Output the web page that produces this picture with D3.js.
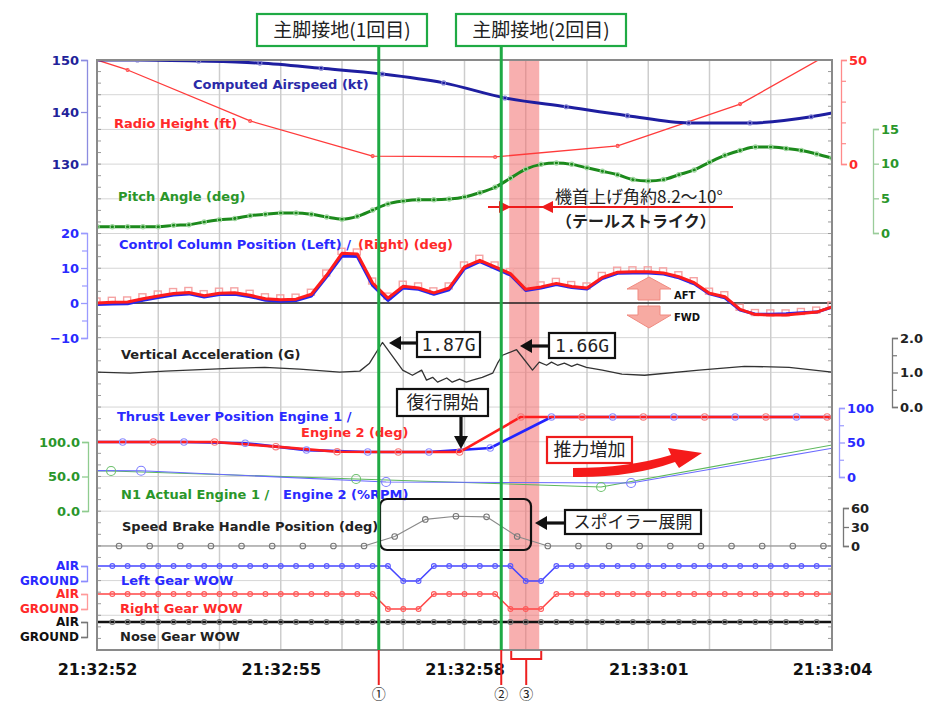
<!DOCTYPE html>
<html>
<head>
<meta charset="utf-8">
<script src="https://cdn.jsdelivr.net/npm/d3@7"></script>
<style>
  body { margin: 0; background: #fff; }
</style>
</head>
<body>
<div id="chart"></div>
<script>
// time is seconds after 21:32:52
const tickSecs = [0, 3, 6, 9, 12];
const tickLabels = ["21:32:52", "21:32:55", "21:32:58", "21:33:01", "21:33:04"];
const quarterT = d3.range(0, 12.001, 0.25); // 0.25 s sample base

// Computed Airspeed (kt)
const airT = [0, 0.66, 1.66, 2.66, 3.66, 4.66, 5.66, 6.66, 7.66, 8.66, 9.66, 10.66, 11.66, 12];
const airspeed = [150.0, 150.0, 149.8, 149.4, 148.4, 147.3, 145.6, 142.7, 141.0, 139.3, 137.9, 137.9, 139.1, 139.8];

// Radio Height (ft)
const radioT = [0, 0.5, 2.5, 4.5, 6.5, 8.5, 10.5, 12.5];
const radioHeight = [50, 45.2, 20.7, 3.8, 3.4, 8.7, 28.8, 62];

// Pitch Angle (deg), every 0.25 s
const pitch = [0.9, 0.9, 0.9, 0.9, 0.9, 1.1, 1.2, 1.6, 1.9, 2.1, 2.5, 2.7, 2.9, 2.9, 2.7, 2.3, 2.0, 2.4, 3.3, 4.2,
  4.6, 4.8, 4.8, 4.9, 5.2, 5.8, 6.6, 7.9, 9.2, 9.9, 10.1, 9.9, 9.4, 8.9, 8.4, 7.7, 7.5, 7.7, 8.4, 9.1,
  10.2, 11.2, 11.9, 12.4, 12.4, 12.2, 11.9, 11.4, 10.8];

// Control Column Position (deg), every 0.25 s
const ccLeft = [-0.4, -0.3, -0.2, 0.8, 1.6, 2.3, 2.6, 1.7, 2.4, 2.5, 1.8, 0.8, 0.5, 0.7, 2.0, 7.5, 13.4, 13.3, 5.0, 0.7,
  4.3, 3.9, 2.5, 3.8, 9.8, 11.8, 9.9, 8.0, 3.6, 4.3, 5.3, 4.4, 4.0, 7.0, 8.5, 8.6, 8.6, 8.3, 7.2, 5.5,
  2.6, 1.5, -2.0, -3.2, -3.2, -3.1, -2.8, -2.6, -1.2];
const ccRight = [0, 0.2, 0.3, 1.2, 2.0, 2.7, 3.0, 2.1, 2.8, 2.9, 2.2, 1.2, 0.9, 1.1, 2.5, 8.0, 14.2, 14.0, 5.7, 1.4,
  4.8, 4.3, 2.9, 4.3, 10.3, 12.2, 10.3, 8.4, 3.9, 4.6, 5.6, 4.7, 4.3, 7.3, 8.8, 8.9, 8.9, 8.6, 7.5, 5.8,
  2.8, 1.8, -1.8, -3.3, -3.4, -3.4, -3.0, -2.6, -1.1];

// Vertical Acceleration (G)
const accT = [0, 0.54, 1.11, 2.17, 2.74, 3.31, 3.96, 4.29, 4.45, 4.66, 4.99, 5.15, 5.30, 5.38, 5.48, 5.56, 5.71, 5.80,
  5.92, 6.03, 6.13, 6.29, 6.46, 6.54, 6.62, 6.85, 7.11, 7.22, 7.34, 7.42, 7.52, 7.63, 7.75, 7.84, 7.99, 8.25,
  8.57, 8.94, 9.83, 10.57, 11.30, 12.0];
const accel = [1.01, 0.98, 1.04, 1.12, 1.15, 1.10, 1.01, 1.04, 1.27, 1.87, 1.07, 0.92, 1.07, 0.78, 0.86, 0.72, 0.84, 0.72,
  0.81, 0.72, 0.78, 0.86, 0.98, 1.27, 1.50, 1.66, 1.07, 1.30, 1.21, 1.30, 1.21, 1.27, 1.18, 1.24, 1.15, 1.07,
  0.95, 0.92, 1.07, 1.18, 1.15, 1.01];

// Thrust Lever Position (deg)
const thrLeftT = [0, 0.42, 1.42, 2.42, 3.42, 4.42, 5.42, 6.42, 7.42, 8.42, 9.42, 10.42, 11.42, 12];
const thrLeft = [50.7, 50.7, 50.7, 49, 39, 36.2, 36.2, 42, 87, 87, 87, 87, 87, 87];
const thrRightT = [0, 0.92, 1.92, 2.92, 3.92, 4.92, 5.92, 6.92, 7.92, 8.92, 9.92, 10.92, 11.92, 12];
const thrRight = [50.7, 50.7, 50.7, 44, 36.5, 36.2, 36.2, 87, 87, 87, 87, 87, 87, 87];

// N1 Actual (%RPM)
const n1LeftT = [0, 0.23, 4.23, 8.23, 12.23];
const n1Left = [58, 58, 46.4, 34.8, 99.3];
const n1RightT = [0, 0.72, 4.72, 8.72, 12.72];
const n1Right = [58.5, 58.4, 42, 40.6, 102];

// Speed Brake Handle Position (deg)
const sbT = [0].concat(d3.range(0.36, 12, 0.5), [12]);
const speedBrake = [0, 0, 0, 0, 0, 0, 0, 0, 0, 0, 15, 42, 47, 46, 15, 0, 0, 0, 0, 0, 0, 0, 0, 0, 0, 0];

// Weight on wheels, 1 = AIR, 0 = GROUND, every 0.25 s
const leftGear = [1,1,1,1,1,1,1,1,1,1,1,1,1,1,1,1,1,1,1,1,0,0,1,1,1,1,1,1,0,0,1,1,1,1,1,1,1,1,1,1,1,1,1,1,1,1,1,1,1];
const rightGear = [1,1,1,1,1,1,1,1,1,1,1,1,1,1,1,1,1,1,1,0,0,0,1,1,1,1,1,0,0,0,1,1,1,1,1,1,1,1,1,1,1,1,1,1,1,1,1,1,1];
const noseGear = [1,1,1,1,1,1,1,1,1,1,1,1,1,1,1,1,1,1,1,1,1,1,1,1,1,1,1,1,1,1,1,1,1,1,1,1,1,1,1,1,1,1,1,1,1,1,1,1,1];

// events
const touchdowns = [4.6, 6.6];
const tailStrike = [6.73, 7.22];

const SANS = "'DejaVu Sans', Verdana, sans-serif";
const JP = "'Noto Sans CJK JP', sans-serif";
const MONO = "'DejaVu Sans Mono', 'Liberation Mono', monospace";

const width = 931, height = 704;
const plotTop = 60, plotBottom = 650;

const svg = d3.select("#chart").append("svg")
  .attr("width", width).attr("height", height)
  .style("background", "#fff");

const x = d3.scaleLinear().domain([0, 12]).range([97, 832]);

const yAir = d3.scaleLinear().domain([130, 150]).range([164, 60]);
const yRadio = d3.scaleLinear().domain([0, 50]).range([164, 60]);
const yPitch = d3.scaleLinear().domain([0, 15]).range([233, 129]);
const yCol = d3.scaleLinear().domain([-10, 20]).range([338, 233]);
const yAcc = d3.scaleLinear().domain([0, 2]).range([407, 338]);
const yThr = d3.scaleLinear().domain([0, 100]).range([477, 408]);
const yN1 = d3.scaleLinear().domain([0, 100]).range([511, 442]);
const ySb = d3.scaleLinear().domain([0, 60]).range([546, 508]);
const yLeftG = d3.scaleLinear().domain([0, 1]).range([581, 566]);
const yRightG = d3.scaleLinear().domain([0, 1]).range([609, 594]);
const yNoseG = d3.scaleLinear().domain([0, 1]).range([637, 622]);

svg.append("clipPath").attr("id", "plotclip")
  .append("rect").attr("x", 97).attr("y", plotTop).attr("width", 735).attr("height", plotBottom - plotTop);

// grid
const grid = svg.append("g");
const rowStep = (plotBottom - plotTop) / 17;
grid.selectAll(".hg").data(d3.range(1, 17)).enter().append("line")
  .attr("x1", 97).attr("x2", 832)
  .attr("y1", d => plotTop + d * rowStep).attr("y2", d => plotTop + d * rowStep)
  .attr("stroke", "#d6d6d6").attr("stroke-width", 1);
grid.selectAll(".vg").data(d3.range(1, 12)).enter().append("line")
  .attr("x1", d => x(d)).attr("x2", d => x(d))
  .attr("y1", plotTop).attr("y2", plotBottom)
  .attr("stroke", "#cdcdcd").attr("stroke-width", 1.5);
// small ticks inside the frame
const minorY = d3.range(plotTop, plotBottom, rowStep / 3);
grid.selectAll(".ml").data(minorY).enter().append("line")
  .attr("x1", 97).attr("x2", 101).attr("y1", d => d).attr("y2", d => d)
  .attr("stroke", "#999");
grid.selectAll(".mr").data(minorY).enter().append("line")
  .attr("x1", 828).attr("x2", 832).attr("y1", d => d).attr("y2", d => d)
  .attr("stroke", "#999");

// tail strike band
svg.append("rect")
  .attr("x", x(tailStrike[0])).attr("y", plotTop)
  .attr("width", x(tailStrike[1]) - x(tailStrike[0])).attr("height", plotBottom - plotTop)
  .attr("fill", "#f26e6e").attr("opacity", 0.55);

const plot = svg.append("g").attr("clip-path", "url(#plotclip)");

// zero line for control column
plot.append("line").attr("x1", 97).attr("x2", 832)
  .attr("y1", yCol(0)).attr("y2", yCol(0))
  .attr("stroke", "#222").attr("stroke-width", 1.3);

function drawLine(ts, vs, yScale, color, w, curve, dash) {
  plot.append("path")
    .datum(ts.map((t, i) => [t, vs[i]]))
    .attr("fill", "none").attr("stroke", color).attr("stroke-width", w)
    .attr("stroke-linejoin", "round")
    .attr("stroke-dasharray", dash || null)
    .attr("d", d3.line().x(d => x(d[0])).y(d => yScale(d[1])).curve(curve || d3.curveLinear));
}

function drawDots(ts, vs, yScale, color, r, keep) {
  const pts = ts.map((t, i) => [t, vs[i]]).filter((d, i) => keep ? keep(i) : true);
  plot.append("g").selectAll("circle").data(pts).enter().append("circle")
    .attr("cx", d => x(d[0])).attr("cy", d => yScale(d[1])).attr("r", r)
    .attr("fill", "none").attr("stroke", color).attr("stroke-width", 1.1);
}

// airspeed + radio height + pitch
drawLine(radioT, radioHeight, yRadio, "#ff3b3b", 1.3);
drawDots(radioT, radioHeight, yRadio, "#ff5050", 1.5, i => i > 0);
drawLine(airT, airspeed, yAir, "#1e1ea0", 3, d3.curveMonotoneX);
drawDots(airT, airspeed, yAir, "#8080d0", 2, i => i > 0 && i < airT.length - 1);
drawLine(quarterT, pitch, yPitch, "#1c8a1c", 3, d3.curveMonotoneX);
drawDots(quarterT, pitch, yPitch, "#9fd69f", 2.2);

// control column
plot.append("g").selectAll("rect").data(quarterT.map((t, i) => [t, ccRight[i]])).enter().append("rect")
  .attr("x", d => x(d[0]) - 4).attr("y", d => yCol(d[1]) - 5)
  .attr("width", 7).attr("height", 6)
  .attr("fill", "none").attr("stroke", "#f5a3a3").attr("stroke-width", 1.4);
drawLine(quarterT, ccLeft, yCol, "#2626ee", 3);
drawLine(quarterT, ccRight, yCol, "#ff1c1c", 3);

// vertical acceleration
drawLine(accT, accel, yAcc, "#333", 1.3);

// thrust lever
drawLine(thrLeftT, thrLeft, yThr, "#2424ff", 2.6);
drawLine(thrRightT, thrRight, yThr, "#ff1e1e", 2.6);
drawDots(thrLeftT, thrLeft, yThr, "#8c8cff", 3.2, i => i > 0 && i < thrLeftT.length - 1);
drawDots(thrRightT, thrRight, yThr, "#f47c7c", 3.2, i => i > 0 && i < thrRightT.length - 1);

// N1
drawLine(n1LeftT, n1Left, yN1, "#5cb85c", 1.1);
drawLine(n1RightT, n1Right, yN1, "#6a6aff", 1.1);
drawDots(n1LeftT, n1Left, yN1, "#6cc06c", 4.5, i => i > 0);
drawDots(n1RightT, n1Right, yN1, "#7c7cff", 4.5, i => i > 0);

// speed brake
drawLine(sbT, speedBrake, ySb, "#8a8a8a", 1.2);
drawDots(sbT, speedBrake, ySb, "#777", 2.8, i => i > 0 && i < sbT.length - 1);

// weight on wheels
drawLine(quarterT, leftGear, yLeftG, "#4646ff", 1.6);
drawDots(quarterT, leftGear, yLeftG, "#5a5aff", 2.4, i => i > 0 && i < 48);
drawLine(quarterT, rightGear, yRightG, "#ff4646", 1.6);
drawDots(quarterT, rightGear, yRightG, "#ff5a5a", 2.4, i => i > 0 && i < 48);
drawLine(quarterT, noseGear, yNoseG, "#111", 2.6);
drawDots(quarterT, noseGear, yNoseG, "#777", 2.4, i => i > 0 && i < 48);

// frame
svg.append("rect").attr("x", 97).attr("y", plotTop).attr("width", 735).attr("height", plotBottom - plotTop)
  .attr("fill", "none").attr("stroke", "#8a8a8a").attr("stroke-width", 2);

// side axes
function sideAxis(side, xPos, scale, ticks, fmt, textColor, lineColor, minor, fontSize) {
  const ax = (side === "left" ? d3.axisLeft(scale) : d3.axisRight(scale))
    .tickValues(ticks).tickFormat(fmt).tickSize(6).tickPadding(2);
  const g = svg.append("g").attr("transform", `translate(${xPos},0)`).call(ax);
  g.select(".domain").attr("stroke", lineColor).attr("stroke-width", 1.3);
  g.selectAll(".tick line").attr("stroke", lineColor).attr("stroke-width", 1.3);
  g.selectAll("text").attr("fill", textColor)
    .style("font-family", SANS).style("font-size", (fontSize || 13) + "px").style("font-weight", "bold");
  if (minor) {
    const m = (side === "left" ? d3.axisLeft(scale) : d3.axisRight(scale))
      .tickValues(minor).tickFormat("").tickSize(5);
    const mg = svg.append("g").attr("transform", `translate(${xPos},0)`).call(m);
    mg.select(".domain").remove();
    mg.selectAll(".tick line").attr("stroke", lineColor).attr("stroke-width", 1.2);
  }
}

sideAxis("left", 87, yAir, [150, 140, 130], d3.format("d"), "#22229a", "#8c8ce0");
sideAxis("left", 87, yCol, [20, 10, 0, -10], d3.format("d"), "#2a2aff", "#9a9aff", [15, 5, -5]);
sideAxis("left", 88, yN1, [100, 50, 0], d3.format(".1f"), "#2a962a", "#8fcc8f");
sideAxis("left", 87, yLeftG, [1, 0], d => d ? "AIR" : "GROUND", "#2a2aff", "#8c8cff", null, 12);
sideAxis("left", 87, yRightG, [1, 0], d => d ? "AIR" : "GROUND", "#ff2a2a", "#ff9a9a", null, 12);
sideAxis("left", 87, yNoseG, [1, 0], d => d ? "AIR" : "GROUND", "#111", "#777", null, 12);

sideAxis("right", 841, yRadio, [50, 0], d3.format("d"), "#ff2a2a", "#ff8a8a", [10, 20, 30, 40]);
sideAxis("right", 873, yPitch, [15, 10, 5, 0], d3.format("d"), "#2a962a", "#9acc9a");
sideAxis("right", 892, yAcc, [2, 1, 0], d3.format(".1f"), "#222", "#777", [1.5, 0.5]);
sideAxis("right", 839, yThr, [100, 50, 0], d3.format("d"), "#2a2aff", "#9a9aff", [75, 25]);
sideAxis("right", 843, ySb, [60, 30, 0], d3.format("d"), "#222", "#777");

// time axis
const tAx = d3.axisBottom(x).tickValues(tickSecs).tickFormat((d, i) => tickLabels[i]).tickSize(0).tickPadding(14);
const tg = svg.append("g").attr("transform", `translate(0,${plotBottom})`).call(tAx);
tg.select(".domain").remove();
tg.selectAll("text").attr("fill", "#111")
  .style("font-family", SANS).style("font-size", "16px").style("font-weight", "bold");

// series labels
const labels = [
  { t: "Computed Airspeed (kt)", x: 193, y: 89, c: "#2a2aa8" },
  { t: "Radio Height (ft)", x: 114, y: 128, c: "#ff2a2a" },
  { t: "Pitch Angle (deg)", x: 118, y: 201, c: "#2a962a" },
  { t: "Control Column Position (Left) / ", x: 119, y: 249, c: "#2a2aff" },
  { t: "(Right) (deg)", x: 358, y: 249, c: "#ff2a2a" },
  { t: "Vertical Acceleration (G)", x: 121, y: 359, c: "#222" },
  { t: "Thrust Lever Position Engine 1 /", x: 117, y: 421, c: "#2a2aff" },
  { t: "Engine 2 (deg)", x: 301, y: 437, c: "#ff2a2a" },
  { t: "N1 Actual Engine 1 /", x: 121, y: 499, c: "#2a962a" },
  { t: "Engine 2 (%RPM)", x: 283, y: 499, c: "#2a2aff" },
  { t: "Speed Brake Handle Position (deg)", x: 122, y: 531, c: "#222" },
  { t: "Left Gear WOW", x: 121, y: 585, c: "#2a2aff" },
  { t: "Right Gear WOW", x: 120, y: 613, c: "#ff2a2a" },
  { t: "Nose Gear WOW", x: 120, y: 641, c: "#222" }
];
svg.append("g").selectAll("text").data(labels).enter().append("text")
  .attr("x", d => d.x).attr("y", d => d.y).attr("fill", d => d.c)
  .style("font-family", SANS).style("font-size", "13px").style("font-weight", "bold")
  .style("white-space", "pre")
  .text(d => d.t);

// AFT / FWD arrows
const ax0 = 649;
svg.append("path")
  .attr("d", `M${ax0},277 L${ax0 + 22},289 L${ax0 + 11},289 L${ax0 + 11},300 L${ax0 - 11},300 L${ax0 - 11},289 L${ax0 - 22},289 Z`)
  .attr("fill", "#f7aaa2").attr("stroke", "#f08a80").attr("stroke-width", 1);
svg.append("path")
  .attr("d", `M${ax0 - 11},306 L${ax0 + 11},306 L${ax0 + 11},315 L${ax0 + 22},315 L${ax0},328 L${ax0 - 22},315 L${ax0 - 11},315 Z`)
  .attr("fill", "#f7aaa2").attr("stroke", "#f08a80").attr("stroke-width", 1);
svg.append("text").attr("x", 674).attr("y", 299).text("AFT")
  .style("font-family", SANS).style("font-size", "10px").style("font-weight", "bold").attr("fill", "#111");
svg.append("text").attr("x", 674).attr("y", 321).text("FWD")
  .style("font-family", SANS).style("font-size", "10px").style("font-weight", "bold").attr("fill", "#111");

// annotations
const ann = svg.append("g");

function box(x0, y0, w, h, stroke, txt, font, size, rx) {
  ann.append("rect").attr("x", x0).attr("y", y0).attr("width", w).attr("height", h)
    .attr("rx", rx || 0).attr("fill", "#fff").attr("stroke", stroke).attr("stroke-width", 2.2);
  ann.append("text").attr("x", x0 + w / 2).attr("y", y0 + h / 2).attr("dy", "0.36em")
    .attr("text-anchor", "middle").attr("fill", "#222")
    .style("font-family", font).style("font-size", size + "px")
    .text(txt);
}

function arrowLeft(xTip, xEnd, yy, color) {
  ann.append("line").attr("x1", xTip + 8).attr("x2", xEnd).attr("y1", yy).attr("y2", yy)
    .attr("stroke", color).attr("stroke-width", 3.2);
  ann.append("path").attr("d", `M${xTip},${yy} L${xTip + 12},${yy - 7} L${xTip + 12},${yy + 7} Z`).attr("fill", color);
}

// touchdown markers
touchdowns.forEach(t => {
  svg.append("line").attr("x1", x(t)).attr("x2", x(t)).attr("y1", plotBottom).attr("y2", 685)
    .attr("stroke", "#ee2020").attr("stroke-width", 2);
  svg.append("line").attr("x1", x(t)).attr("x2", x(t)).attr("y1", 46).attr("y2", plotBottom)
    .attr("stroke", "#1faa44").attr("stroke-width", 3);
});
svg.append("path")
  .attr("d", `M${x(tailStrike[0]) + 2},651 V659 H${x(tailStrike[1]) + 2} V651 M${(x(tailStrike[0]) + x(tailStrike[1])) / 2 + 2},659 V685`)
  .attr("fill", "none").attr("stroke", "#ee2020").attr("stroke-width", 2);

const circled = ["①", "②"];
touchdowns.forEach((t, i) => {
  svg.append("text").attr("x", x(t)).attr("y", 699).attr("text-anchor", "middle")
    .style("font-family", JP).style("font-size", "14px").attr("fill", "#222").text(circled[i]);
});
svg.append("text").attr("x", (x(tailStrike[0]) + x(tailStrike[1])) / 2 + 2).attr("y", 699).attr("text-anchor", "middle")
  .style("font-family", JP).style("font-size", "14px").attr("fill", "#222").text("③");

box(257, 14, 170, 32, "#1faa44", "主脚接地(1回目)", JP, 19);
box(456, 14, 170, 32, "#1faa44", "主脚接地(2回目)", JP, 19);

box(417, 332, 63, 25, "#111", "1.87G", MONO, 18);
arrowLeft(389, 417, 343, "#111");
box(549, 333, 66, 25, "#111", "1.66G", MONO, 18);
arrowLeft(520, 549, 346, "#111");

box(397, 389, 91, 27, "#111", "復行開始", JP, 18);
ann.append("line").attr("x1", 461).attr("x2", 461).attr("y1", 416).attr("y2", 440)
  .attr("stroke", "#111").attr("stroke-width", 3.2);
ann.append("path").attr("d", "M461,449 L454,436 L468,436 Z").attr("fill", "#111");

box(547, 437, 85, 26, "#ee1c1c", "推力増加", JP, 18);
ann.append("path")
  .attr("d", "M573,468 Q628,468 671,455 L668,448 L702,453 L679,468 L675,462 Q630,478 573,477 Z")
  .attr("fill", "#f51a1a");

ann.append("rect").attr("x", 380).attr("y", 499).attr("width", 151).attr("height", 51).attr("rx", 7)
  .attr("fill", "none").attr("stroke", "#111").attr("stroke-width", 2.2);
box(565, 510, 136, 24, "#111", "スポイラー展開", JP, 17);
arrowLeft(535, 565, 523, "#111");

// tail strike note
ann.append("text").attr("x", 555).attr("y", 203).attr("fill", "#222")
  .style("font-family", JP).style("font-size", "17px").text("機首上げ角約8.2〜10°");
ann.append("line").attr("x1", 488).attr("x2", 733).attr("y1", 207).attr("y2", 207)
  .attr("stroke", "#ee1c1c").attr("stroke-width", 2);
ann.append("path").attr("d", "M511,207 L499,201 L499,213 Z").attr("fill", "#ee1c1c");
ann.append("path").attr("d", "M541,207 L553,201 L553,213 Z").attr("fill", "#ee1c1c");
ann.append("text").attr("x", 556).attr("y", 227).attr("fill", "#222")
  .style("font-family", JP).style("font-size", "16px").style("font-weight", "bold").text("（テールストライク）");
</script>
</body>
</html>
